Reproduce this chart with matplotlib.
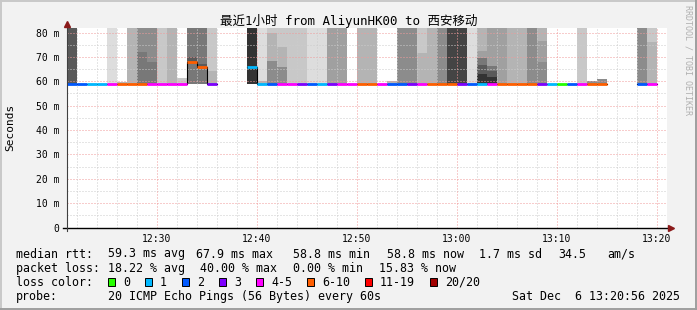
import numpy as np
import matplotlib
matplotlib.use('Agg')
import matplotlib.pyplot as plt
from matplotlib.patches import Rectangle
from matplotlib.lines import Line2D

plt.rcParams['font.family'] = ['DejaVu Sans Mono', 'Noto Sans CJK SC']

nan = np.nan

# one column per minute, 12:21 .. 13:20 (minutes after 12:00)
start_min = 21

median_ms = [59.0, 58.9, 58.9, 58.9, 58.9, 59.0, 59.0, 59.0, 58.9, 58.9,
             58.9, 58.9, 67.9, 65.9, 58.9, nan, nan, nan, 65.8, 58.9,
             58.9, 58.8, 58.8, 58.9, 58.9, 58.9, 58.9, 58.9, 58.9, 59.0,
             59.0, 58.9, 58.9, 58.9, 58.9, 58.9, 59.0, 59.0, 59.0, 58.9,
             58.9, 59.0, 59.0, 59.0, 59.0, 58.9, 58.9, 58.9, 58.9, 58.9,
             58.9, 58.9, 58.9, 58.9, nan, nan, nan, 58.9, 58.8, nan]

# lost pings out of 20, -1 = no data
lost_pings = [2, 2, 1, 1, 4, 6, 7, 8, 5, 4,
              5, 4, 7, 6, 3, -1, -1, -1, 1, 1,
              2, 4, 5, 3, 2, 1, 3, 4, 5, 6,
              8, 4, 2, 2, 3, 5, 6, 7, 8, 3,
              2, 1, 4, 6, 7, 6, 8, 3, 1, 0,
              2, 4, 6, 7, -1, -1, -1, 2, 5, -1]

# lowest ping of each minute
smoke_floor = [59.0, nan, nan, nan, 58.9, 59.0, 59.0, 59.0, 58.9, 58.9,
               58.9, 58.9, 59.0, 59.0, 58.9, nan, nan, nan, 59.0, 58.9,
               58.9, 58.8, 58.8, 58.9, 58.9, 58.9, 58.9, 58.9, nan, 59.0,
               59.0, nan, 58.9, 58.9, 58.9, 58.9, 59.0, 59.0, 59.0, 58.9,
               58.9, 59.0, 59.0, 59.0, 59.0, 58.9, 58.9, 58.9, nan, nan,
               nan, 58.9, 58.9, 58.9, nan, nan, nan, 58.9, 58.8, nan]

# smoke layers per minute: (upper edge in ms, ping density 1..9)
smoke_layers = [
    [(90, 7)], [], [], [], [(90, 1)],
    [(59.9, 3)], [(90, 3)], [(72.0, 6), (90, 5)], [(68.1, 6), (90, 5)], [(90, 2)],
    [(90, 3)], [(61.2, 2)], [(67.9, 6), (69.9, 7), (90, 6)], [(65.6, 6), (67.0, 7), (90, 6)], [(64.2, 3), (90, 2)],
    [], [], [], [(90, 9)], [(60.3, 3), (90, 1)],
    [(68.5, 5), (80.0, 3), (90, 2)], [(65.8, 5), (74.0, 3), (90, 2)], [(90, 2)], [(90, 2)], [(90, 1)],
    [(90, 1)], [(90, 4)], [(90, 4)], [], [(90, 3)],
    [(90, 3)], [], [(60.1, 3)], [(90, 5)], [(90, 5)],
    [(71.6, 3), (90, 2)], [(90, 3)], [(90, 5)], [(90, 8)], [(90, 8)],
    [(90, 1)], [(63.2, 9), (66.7, 7), (69.4, 6), (72.4, 4), (90, 3)],
    [(61.9, 9), (64.2, 7), (66.1, 6), (90, 4)], [(90, 4)], [(90, 3)],
    [(90, 3)], [(90, 5)], [(68.0, 5), (76.5, 4), (90, 3)], [], [],
    [], [(90, 2)], [(60.0, 5)], [(61.0, 5)], [],
    [], [], [(90, 5)], [(76.3, 3), (90, 2)], [],
]

loss_labels = ['0', '1', '2', '3', '4-5', '6-10', '11-19', '20/20']
loss_colors = ['#26ff00', '#00b8ff', '#0059ff', '#7e00ff', '#ff00ff', '#ff5e00', '#ff0000', '#a10000']
x_tick_min = [30, 40, 50, 60, 70, 80]
x_tick_labels = ['12:30', '12:40', '12:50', '13:00', '13:10', '13:20']
y_tick_vals = [0, 10, 20, 30, 40, 50, 60, 70, 80]

title = '最近1小时 from AliyunHK00 to 西安移动'
median_stats = ['59.3 ms avg', '67.9 ms max', '58.8 ms min', '58.8 ms now', '1.7 ms sd', '34.5', 'am/s']
loss_stats = ['18.22 % avg', '40.00 % max', '0.00 % min', '15.83 % now']
probe_text = '20 ICMP Echo Pings (56 Bytes) every 60s'
stamp_text = 'Sat Dec  6 13:20:56 2025'

shades = {1: '#dddddd', 2: '#c8c8c8', 3: '#b4b4b4', 4: '#a0a0a0', 5: '#8c8c8c',
          6: '#787878', 7: '#5a5a5a', 8: '#444444', 9: '#333333'}


def loss_class(n):
    if n <= 3:
        return n
    if n <= 5:
        return 4
    if n <= 10:
        return 5
    if n <= 19:
        return 6
    return 7


W, H = 697, 310
fig = plt.figure(figsize=(W / 100, H / 100), dpi=100, facecolor='#f2f2f2')
L, R, T, B = 67, 667, 27.7, 227.5
ax = fig.add_axes([L / W, 1 - B / H, (R - L) / W, (B - T) / H])
ax.set_facecolor('white')
ax.set_xlim(start_min, start_min + 60)
ax.set_ylim(0, 82)
for s in ax.spines.values():
    s.set_visible(False)

x_left = start_min + np.arange(len(median_ms))

# smoke
for i, layers in enumerate(smoke_layers):
    lo = smoke_floor[i]
    for top, d in layers:
        ax.bar(x_left[i], top - lo, bottom=lo, width=1, align='edge',
               color=shades[d], linewidth=0, zorder=1)
        lo = top

# grid
dots = (0, (1, 2))
for v in range(5, 81, 5):
    ax.axhline(v, color='#f09a9a' if v % 10 == 0 else '#cccccc', lw=0.72, ls=dots, zorder=2)
for m in range(start_min + 1, start_min + 60, 2):
    ax.axvline(m, color='#f09a9a' if m % 10 == 0 else '#cccccc', lw=0.72, ls=dots, zorder=2)

# median
med = np.array(median_ms)
edges = np.append(x_left, x_left[-1] + 1)
ax.step(edges, np.append(med, med[-1]), where='post', color='black', lw=0.8, zorder=3)
seg_colors = [loss_colors[loss_class(n)] if n >= 0 else 'none' for n in lost_pings]
ax.hlines(med, x_left, x_left + 1, colors=seg_colors, lw=2.0, zorder=4)

# axes
ax.set_xticks(x_tick_min)
ax.set_xticklabels(x_tick_labels)
ax.tick_params(axis='x', length=0, pad=4.9, labelsize=7)
ax.set_yticks(y_tick_vals)
ax.set_yticklabels(['0' if v == 0 else f'{v} m' for v in y_tick_vals])
ax.tick_params(axis='y', length=0, pad=5.5, labelsize=7)

ax.plot([20.6, 81.1], [0, 0], color='black', lw=1.0, clip_on=False, zorder=5)
ax.plot([21, 21], [-1.5, 83], color='#404040', lw=0.8, clip_on=False, zorder=5)
ax.plot(21, 83.7, marker='^', ms=4, color='#8b1a1a', clip_on=False, zorder=6)
ax.plot(81.4, 0, marker='>', ms=4, color='#8b1a1a', clip_on=False, zorder=6)


def ftext(x, y, s, **kw):
    kw.setdefault('fontsize', 8.4)
    kw.setdefault('va', 'center')
    fig.text(x / W, 1 - y / H, s, **kw)


ftext(348.5, 21, title, ha='center', fontsize=9)
ftext(10, 127, 'Seconds', ha='center', rotation=90, fontsize=8)
ftext(688, 60, 'RRDTOOL / TOBI OETIKER', ha='center', rotation=270, fontsize=6, color='#b0b0b0')

ftext(16, 254, 'median rtt:')
for xp, s in zip([107.5, 195.5, 293, 386.7, 479, 558, 607.7], median_stats):
    ftext(xp, 254, s)
ftext(16, 268.3, 'packet loss:')
for xp, s in zip([107.5, 200, 293, 379], loss_stats):
    ftext(xp, 268.3, s)
ftext(16, 282, 'loss color:')
for xp, lab, col in zip([108, 145, 182, 219, 256, 307, 365, 430], loss_labels, loss_colors):
    fig.add_artist(Rectangle((xp / W, 1 - 285.5 / H), 7 / W, 8 / H, facecolor=col,
                             edgecolor='black', lw=0.7, transform=fig.transFigure))
    ftext(xp + 15, 282, lab)
ftext(16, 296.5, 'probe:')
ftext(107.5, 296.5, probe_text)
ftext(680, 296.5, stamp_text, ha='right')

# frame
fig.add_artist(Line2D([0, 1], [1 - 0.7 / H, 1 - 0.7 / H], color='#c8c8c8', lw=1.4, transform=fig.transFigure))
fig.add_artist(Line2D([0.7 / W, 0.7 / W], [0, 1], color='#c8c8c8', lw=1.4, transform=fig.transFigure))
fig.add_artist(Line2D([0, 1], [0.7 / H, 0.7 / H], color='#9e9e9e', lw=1.4, transform=fig.transFigure))
fig.add_artist(Line2D([1 - 0.7 / W, 1 - 0.7 / W], [0, 1], color='#9e9e9e', lw=1.4, transform=fig.transFigure))

fig.savefig('out.png', dpi=100, facecolor=fig.get_facecolor())
